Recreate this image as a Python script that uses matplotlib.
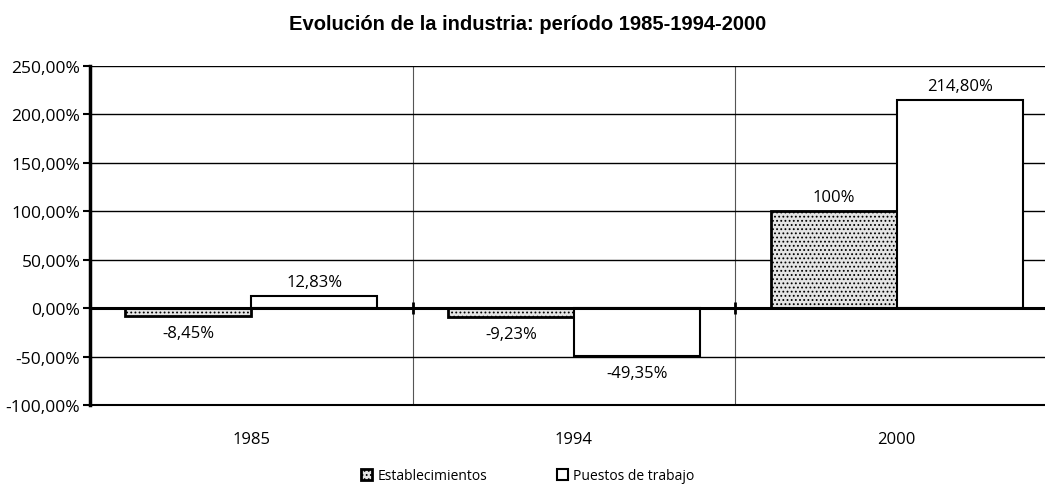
import matplotlib.pyplot as plt
import numpy as np

# Datos: variación porcentual por año
years = ["1985", "1994", "2000"]
establecimientos = [-8.45, -9.23, 100.0]
puestos = [12.83, -49.35, 214.80]
labels_est = ["-8,45%", "-9,23%", "100%"]
labels_pue = ["12,83%", "-49,35%", "214,80%"]
y_ticks = [-100, -50, 0, 50, 100, 150, 200, 250]

plt.rcParams['font.family'] = ['Open Sans', 'DejaVu Sans']
plt.rcParams['hatch.color'] = '#9a9a9a'
plt.rcParams['hatch.linewidth'] = 0.8

fig = plt.figure(figsize=(10.45, 4.89), dpi=100)
ax = fig.add_axes([90 / 1045, 1 - 406 / 489, (1058 - 90) / 1045, (406 - 67) / 489])

x = np.arange(len(years))
w = 0.39

b1 = ax.bar(x - w / 2, establecimientos, width=w, facecolor='#e4e4e4',
            edgecolor='black', linewidth=2, hatch='....', zorder=3,
            label='Establecimientos')
b2 = ax.bar(x + w / 2, puestos, width=w, facecolor='white',
            edgecolor='black', linewidth=1.5, zorder=3,
            label='Puestos de trabajo')

# etiquetas de valor
for bars, labs in ((b1, labels_est), (b2, labels_pue)):
    for bar, lab in zip(bars, labs):
        h = bar.get_height()
        off = 10 if h >= 0 else -12
        ax.annotate(lab, (bar.get_x() + bar.get_width() / 2, h),
                    xytext=(0, off), textcoords='offset points',
                    ha='center', va='center', fontsize=12, zorder=5)

ax.set_xlim(-0.5, 2.5)
ax.set_ylim(-100, 250)
ax.set_yticks(y_ticks)
ax.set_yticklabels([f"{v:,.2f}%".replace('.', ';').replace(',', '.').replace(';', ',')
                    for v in y_ticks], fontsize=12.5)
ax.set_xticks(x)
ax.set_xticklabels(years, fontsize=12)
ax.tick_params(axis='x', length=0, pad=19)
ax.tick_params(axis='y', length=5, width=1.5, direction='out', pad=2)

ax.grid(axis='y', color='black', linewidth=1)
ax.set_xticks([0.5, 1.5], minor=True)
ax.tick_params(axis='x', which='minor', length=0)
ax.grid(axis='x', which='minor', color='#555555', linewidth=0.8)
ax.set_axisbelow(True)

ax.axhline(0, color='black', linewidth=2.2, zorder=4)
ax.plot([0.5, 1.5], [0, 0], linestyle='none', marker='|', markersize=9,
        markeredgewidth=2, color='black', zorder=4)

for s in ('top', 'right'):
    ax.spines[s].set_visible(False)
ax.spines['left'].set_linewidth(2.5)
ax.spines['bottom'].set_linewidth(1.5)

fig.suptitle("Evolución de la industria: período 1985-1994-2000",
             x=0.505, y=0.97, fontsize=14.5, fontweight='bold',
             family='Liberation Sans')

fig.legend(handles=[b1, b2], loc='center', bbox_to_anchor=(0.505, 0.025),
           ncol=2, frameon=False, fontsize=10, handlelength=0.8,
           handleheight=0.8, handletextpad=0.4, columnspacing=5)

fig.savefig("out.png", dpi=100)
